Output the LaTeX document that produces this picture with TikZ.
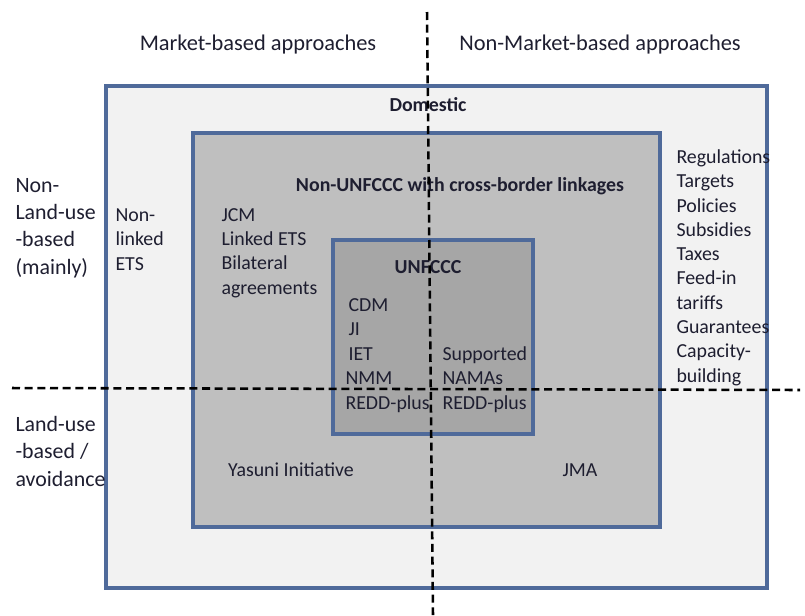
\documentclass[tikz,border=0pt]{standalone}
\usepackage{fontspec}
\setmainfont{Carlito}
\definecolor{boxblue}{RGB}{79,106,154}
\definecolor{shadeout}{RGB}{242,242,242}
\definecolor{shademid}{RGB}{191,191,191}
\definecolor{shadein}{RGB}{166,166,166}
\definecolor{inkdark}{RGB}{30,30,48}
\tikzset{every picture/.style={line width=0.75pt}}

\begin{document}
\begin{tikzpicture}[x=0.75pt,y=0.75pt,yscale=-1,xscale=1,
  panel/.style={draw=boxblue,line width=2.5pt},
  divider/.style={line width=1.9pt,dash pattern={on 6pt off 3.5pt}},
  lbl/.style={font=\fontsize{14.9}{18.2}\selectfont,text=inkdark,inner sep=0pt,align=left,anchor=base west},
  axislbl/.style={lbl,font=\fontsize{16.4}{20.3}\selectfont},
  colhead/.style={lbl,font=\fontsize{16.8}{20}\selectfont,anchor=base},
  heading/.style={lbl,font=\bfseries\fontsize{14.9}{18.2}\selectfont,anchor=base}]
\useasboundingbox (0,0) rectangle (805,615);

%Shape: Rectangle (domestic)
\draw[panel,fill=shadeout] (106,86) rectangle (767,588);
%Shape: Rectangle (non-UNFCCC)
\draw[panel,fill=shademid] (193,133) rectangle (660,527);
%Shape: Rectangle (UNFCCC)
\draw[panel,fill=shadein] (333,240) rectangle (533,434);

%Column headings
\node[colhead] (market) at (258,50) {Market-based approaches};
\node[colhead] (nonmarket) at (600,50) {Non-Market-based approaches};

%Row headings (base = last line)
\node[axislbl] (nonland) at (15,274) {Non-\\Land-use\\-based\\(mainly)};
\node[axislbl] (land) at (15,486) {Land-use\\-based /\\avoidance};

%Box titles
\node[heading] (domestic) at (428,111) {Domestic};
\node[heading] (crossborder) at (460,191) {Non-UNFCCC with cross-border linkages};
\node[heading] (unfccc) at (428,273) {UNFCCC};

%Domestic entries
\node[lbl] (nonlinked) at (115,270) {Non-\\linked\\ETS};
\node[lbl] (policies) at (676,382) {Regulations\\Targets\\Policies\\Subsidies\\Taxes\\Feed-in\\tariffs\\Guarantees\\Capacity-\\building};

%Cross-border entries
\node[lbl] (jcm) at (221,294) {JCM\\Linked ETS\\Bilateral\\agreements};
\node[lbl,anchor=base] (yasuni) at (291,476) {Yasuni Initiative};
\node[lbl,anchor=base] (jma) at (580,476) {JMA};

%UNFCCC entries
\node[lbl] (cdm) at (348,360) {CDM\\JI\\IET};
\node[lbl] (nmm) at (345,409) {NMM\\REDD-plus};
\node[lbl] (namas) at (442,409) {Supported\\NAMAs\\REDD-plus};

%Dividing lines
\coordinate (vtop) at (427,12);
\coordinate (vbot) at (433,615);
\coordinate (hleft) at (12,388);
\coordinate (hright) at (800,390);
\draw[divider] (vtop) -- (vbot);
\draw[divider] (hleft) -- (hright);

\end{tikzpicture}
\end{document}
